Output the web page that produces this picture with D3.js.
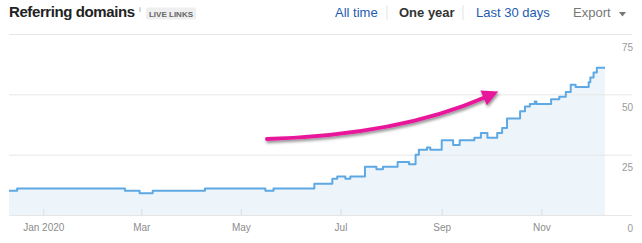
<!DOCTYPE html>
<html>
<head>
<meta charset="utf-8">
<script src="https://cdn.jsdelivr.net/npm/d3@7"></script>
<style>
  body { margin: 0; background: #fff; }
  svg { display: block; font-family: "Helvetica Neue", Helvetica, Arial, "Liberation Sans", sans-serif; }
</style>
</head>
<body>
<svg id="chart" width="642" height="243"></svg>
<script>
// dates where the referring domains count changed, and the new count
var changeDates = [
  '2019-12-11','2019-12-16','2020-02-20','2020-02-29','2020-03-08','2020-04-09',
  '2020-05-16','2020-05-21','2020-06-15','2020-06-26','2020-06-29','2020-07-04',
  '2020-07-07','2020-07-16','2020-07-23','2020-07-27','2020-08-05','2020-08-12',
  '2020-08-16','2020-08-18','2020-08-23','2020-08-25','2020-09-01','2020-09-08',
  '2020-09-12','2020-09-21','2020-09-25','2020-09-29','2020-10-05','2020-10-08',
  '2020-10-11','2020-10-19','2020-10-22','2020-10-25','2020-10-28','2020-10-29',
  '2020-11-07','2020-11-12','2020-11-16','2020-11-19','2020-11-22','2020-11-30',
  '2020-12-01','2020-12-03','2020-12-05','2020-12-10'
];
var domainCounts = [
  10,11,10,9,10,11,
  10,11,13,15,16,15,
  16,20,19,20,22,21,
  25,27,28,27,31,29,
  31,32,34,32,34,36,
  40,43,45,46,47,46,
  48,49,51,54,53,55,
  57,59,61,61
];
var yTicks = [0, 25, 50, 75];
var xTickDates = ['2020-01-01','2020-03-01','2020-05-01','2020-07-01','2020-09-01','2020-11-01'];
var periodLinks = ['All time', 'One year', 'Last 30 days'];

var parse = d3.timeParse('%Y-%m-%d');
var data = changeDates.map(function(d, i){ return {date: parse(d), value: domainCounts[i]}; });

var svg = d3.select('#chart');

var x = d3.scaleTime()
  .domain([parse('2019-12-11'), parse('2020-12-10')])
  .range([9, 605]);
var y = d3.scaleLinear().domain([0, 75]).range([215, 34]);

// shadow for the pink arrow
var defs = svg.append('defs');
defs.append('filter').attr('id', 'shadow')
  .attr('x', '-10%').attr('y', '-50%').attr('width', '120%').attr('height', '200%')
  .append('feDropShadow')
  .attr('dx', 1).attr('dy', 2).attr('stdDeviation', 1.4)
  .attr('flood-color', '#000').attr('flood-opacity', 0.45);

// area + line
var area = d3.area()
  .x(function(d){ return x(d.date); })
  .y0(y(0))
  .y1(function(d){ return y(d.value); })
  .curve(d3.curveStepAfter);
var line = d3.line()
  .x(function(d){ return x(d.date); })
  .y(function(d){ return y(d.value); })
  .curve(d3.curveStepAfter);

svg.append('path').datum(data)
  .attr('d', area)
  .attr('fill', '#eef5fa');

// y grid + labels
var yAxis = svg.append('g')
  .attr('transform', 'translate(632,0)')
  .call(d3.axisLeft(y).tickValues(yTicks).tickSize(623).tickFormat(d3.format('d')));
yAxis.select('.domain').remove();
yAxis.selectAll('line').attr('stroke', '#e6e6e6');
yAxis.selectAll('text')
  .attr('x', 1).attr('dy', 0).attr('y', 16)
  .attr('text-anchor', 'end')
  .attr('fill', '#9a9a9a')
  .style('font-size', '10px');

svg.append('path').datum(data)
  .attr('d', line)
  .attr('fill', 'none')
  .attr('stroke', '#5ea8e4')
  .attr('stroke-width', 2)
  .attr('stroke-linejoin', 'round');

// x axis
var xAxis = svg.append('g')
  .attr('transform', 'translate(0,' + y(0) + ')')
  .call(d3.axisBottom(x)
    .tickValues(xTickDates.map(parse))
    .tickSizeInner(-6).tickSizeOuter(0).tickPadding(9)
    .tickFormat(function(d, i){ return i === 0 ? d3.timeFormat('%b %Y')(d) : d3.timeFormat('%b')(d); }));
xAxis.select('.domain').remove();
xAxis.selectAll('line').attr('stroke', '#dcdcdc');
xAxis.selectAll('text').attr('fill', '#8c8c8c').style('font-size', '10px');

// header
svg.append('text')
  .attr('x', 9).attr('y', 17)
  .attr('fill', '#222')
  .style('font-size', '15px').style('font-weight', 'bold').style('letter-spacing', '-0.4px')
  .text('Referring domains');
svg.append('text')
  .attr('x', 139).attr('y', 12)
  .attr('fill', '#999').style('font-size', '8px')
  .text('i');
svg.append('rect')
  .attr('x', 146).attr('y', 7.5).attr('width', 50).attr('height', 12).attr('rx', 2)
  .attr('fill', '#efefef');
svg.append('text')
  .attr('x', 171).attr('y', 16.5).attr('text-anchor', 'middle')
  .attr('fill', '#666').style('font-size', '8px').style('font-weight', 'bold')
  .text('LIVE LINKS');

var linkX = [335, 399, 476];
periodLinks.forEach(function(label, i){
  svg.append('text')
    .attr('x', linkX[i]).attr('y', 17)
    .attr('fill', i === 1 ? '#333' : '#1d5bb0')
    .style('font-size', '13px').style('font-weight', i === 1 ? 'bold' : 'normal')
    .text(label);
});
[387, 463].forEach(function(sx){
  svg.append('line')
    .attr('x1', sx).attr('x2', sx).attr('y1', 5).attr('y2', 20)
    .attr('stroke', '#e3e3e3');
});
svg.append('text')
  .attr('x', 573).attr('y', 17)
  .attr('fill', '#777').style('font-size', '13px')
  .text('Export');
svg.append('path')
  .attr('d', 'M619,12 L626,12 L622.5,16.5 Z')
  .attr('fill', '#777');

// pink annotation arrow, placed in data space
var arrowStart = {date: parse('2020-05-17'), value: 31.5};
var arrowCtrl = {date: parse('2020-08-06'), value: 33.2};
var arrowEnd = {date: parse('2020-09-28'), value: 48.9};
var p0 = [x(arrowStart.date), y(arrowStart.value)];
var c = [x(arrowCtrl.date), y(arrowCtrl.value)];
var p2 = [x(arrowEnd.date), y(arrowEnd.value)];
var ang = Math.atan2(p2[1] - c[1], p2[0] - c[0]);
var headLen = 16, headW = 8;
var tip = [p2[0] + Math.cos(ang) * headLen * 0.85, p2[1] + Math.sin(ang) * headLen * 0.85];
var base = [tip[0] - Math.cos(ang) * headLen, tip[1] - Math.sin(ang) * headLen];
var nx = -Math.sin(ang), ny = Math.cos(ang);

var arrow = svg.append('g').attr('filter', 'url(#shadow)');
var pth = d3.path();
pth.moveTo(p0[0], p0[1]);
pth.quadraticCurveTo(c[0], c[1], p2[0], p2[1]);
arrow.append('path')
  .attr('d', pth.toString())
  .attr('fill', 'none')
  .attr('stroke', '#e8199a')
  .attr('stroke-width', 4)
  .attr('stroke-linecap', 'round');
arrow.append('path')
  .attr('d', 'M' + tip[0] + ',' + tip[1] +
    'L' + (base[0] + nx * headW) + ',' + (base[1] + ny * headW) +
    'L' + (base[0] - nx * headW) + ',' + (base[1] - ny * headW) + 'Z')
  .attr('fill', '#e8199a');
</script>
</body>
</html>
